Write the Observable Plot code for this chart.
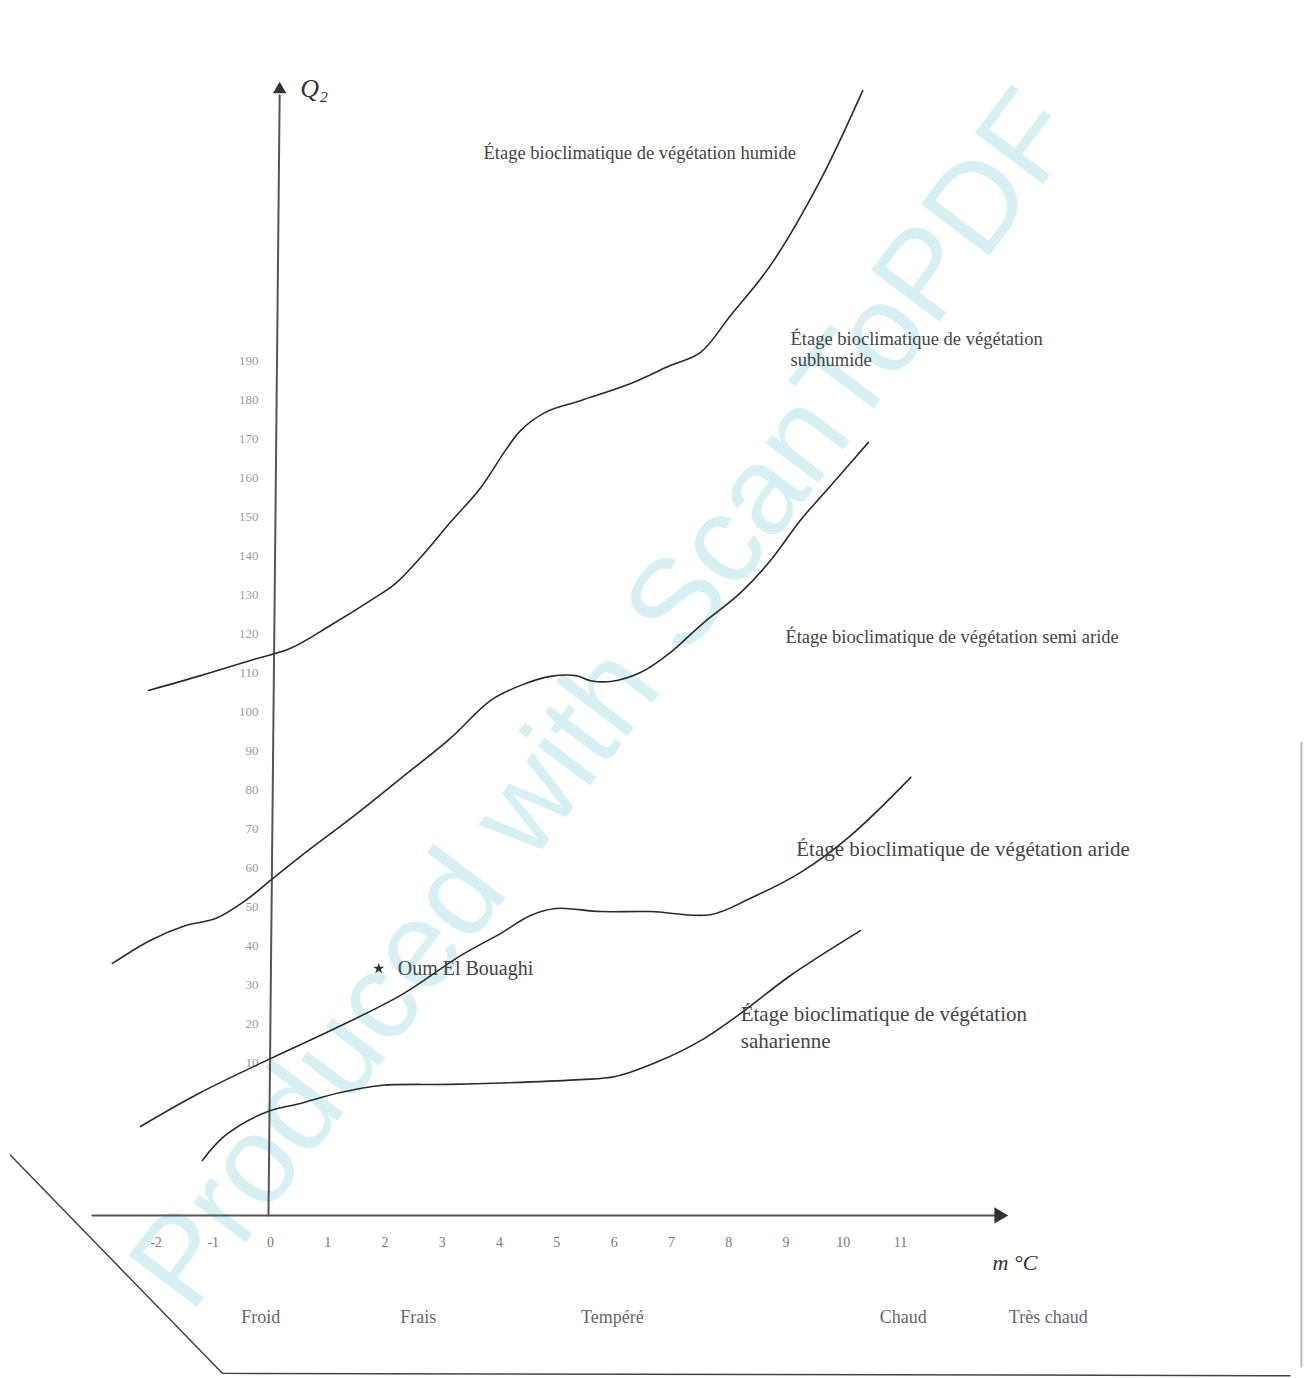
<!DOCTYPE html>
<html><head><meta charset="utf-8">
<script src="https://cdn.jsdelivr.net/npm/d3@7"></script>
<script src="https://cdn.jsdelivr.net/npm/@observablehq/plot@0.6"></script>
<style>body{margin:0;background:#fff}#chart svg{display:block}</style>
</head><body><div id="chart"></div>
<script>
// Emberger climagram: x = m (°C), y = Q2
const yTickValues = [10,20,30,40,50,60,70,80,90,100,110,120,130,140,150,160,170,180,190];
const xTickValues = [-2,-1,0,1,2,3,4,5,6,7,8,9,10,11];
const zoneNames = ["Froid","Frais","Tempéré","Chaud","Très chaud"];
const zoneM = [-0.17,2.58,5.97,11.05,13.58];

// limit humide / subhumide
const limitHumide = [[-2.13,105.4],[-1.22,109.2],[-0.35,113.1],[0.35,116.2],[1.05,122.1],[1.75,128.5],[2.18,132.8],[2.62,139.5],[3.14,148.5],[3.67,157.4],[4.10,166.9],[4.37,172.1],[4.80,176.7],[5.41,179.7],[6.29,184.1],[6.98,188.7],[7.51,192.1],[8.03,201.5],[8.73,214.4],[9.60,236.2],[10.34,259.2]];
// limit subhumide / semi-aride
const limitSubhumide = [[-2.76,35.4],[-2.10,41.3],[-1.48,45.1],[-0.96,46.9],[-0.44,51.5],[0,56.7],[0.52,62.8],[1.40,72.6],[2.27,82.8],[3.14,93.1],[3.84,102.8],[4.37,106.7],[4.89,109.0],[5.33,109.2],[5.59,107.9],[5.94,107.7],[6.46,110.0],[6.98,115.1],[7.51,122.1],[8.21,130.5],[8.73,138.7],[9.25,149.0],[9.78,157.9],[10.44,169.0]];
// limit semi-aride / aride
const limitSemiAride = [[-2.27,-6.4],[-1.22,2.3],[0,11.0],[1.05,18.2],[2.27,27.2],[3.32,37.4],[4.02,43.1],[4.54,47.7],[4.98,49.5],[5.76,48.7],[6.64,48.7],[7.68,47.9],[8.38,52.1],[9.25,58.7],[10.13,68.2],[11.18,83.1]];
// limit aride / saharien
const limitAride = [[-1.19,-15.1],[-0.79,-8.7],[-0.09,-2.8],[0.52,-0.5],[1.22,2.3],[1.92,4.1],[3.14,4.4],[4.37,4.9],[5.41,5.6],[6.02,6.4],[6.81,10.5],[7.51,15.6],[8.21,22.6],[9.08,32.3],[10.30,43.8]];

const stationName = ["Oum El Bouaghi"];
const stationM = [1.89];
const stationQ = [34.1];

const zoneLabels = [
  {m:3.72, q:243.3, t:"Étage bioclimatique de végétation humide", fs:18.5},
  {m:9.08, q:195.6, t:"Étage bioclimatique de végétation", fs:18.5},
  {m:9.08, q:190.0, t:"subhumide", fs:18.5},
  {m:8.99, q:119.0, t:"Étage bioclimatique de végétation semi aride", fs:18.5},
  {m:9.18, q:64.6, t:"Étage bioclimatique de végétation aride", fs:21},
  {m:8.21, q:22.3, t:"Étage bioclimatique de végétation", fs:21},
  {m:8.21, q:15.4, t:"saharienne", fs:21}
];

const axisBottomQ = -29.2;
const lineColor = "#2a2a2a";
const serif = "'Liberation Serif','DejaVu Serif',serif";

const curve = (d) => Plot.line(d, {x: d => d[0], y: d => d[1], curve: "catmull-rom", stroke: lineColor, strokeWidth: 1.6});

const chart = Plot.plot({
  width: 1309, height: 1378,
  marginTop: 0, marginRight: 0, marginBottom: 0, marginLeft: 0,
  x: {domain: [0, 11], range: [270, 900], axis: null},
  y: {domain: [0, 190], range: [1101, 360], axis: null},
  style: {fontFamily: serif, background: "#fff"},
  marks: [
    // watermark
    Plot.text(["Produced with ScanToPDF"], {frameAnchor: "middle", dx: -50, dy: 10, rotate: -53, fontSize: 124, fill: "#d6f0f3", fontFamily: "'Liberation Sans',Arial,sans-serif"}),
    // scan frame lines
    Plot.line([[-4.54,-13.8],[-0.84,-69.7],[17.8,-70.3]], {x: d=>d[0], y: d=>d[1], stroke: "#444", strokeWidth: 1.5}),
    Plot.line([[18.0,92],[18.0,-68]], {x: d=>d[0], y: d=>d[1], stroke: "#bbb", strokeWidth: 2}),
    // axes
    Plot.line([[-3.11, axisBottomQ],[12.7, axisBottomQ]], {x: d=>d[0], y: d=>d[1], stroke: "#555", strokeWidth: 2}),
    Plot.line([[-0.035, axisBottomQ],[0.16, 258]], {x: d=>d[0], y: d=>d[1], stroke: "#555", strokeWidth: 2}),
    Plot.dot([[12.72, axisBottomQ]], {x: d=>d[0], y: d=>d[1], symbol: "triangle", rotate: 90, r: 6, fill: "#333", stroke: "none"}),
    Plot.dot([[0.16, 259.5]], {x: d=>d[0], y: d=>d[1], symbol: "triangle", r: 5, fill: "#333", stroke: "none"}),
    // tick labels
    Plot.text(yTickValues, {x: -0.21, y: d => d, text: d => String(d), textAnchor: "end", fontSize: 13, fill: "#999"}),
    Plot.text(xTickValues, {x: d => d, y: -36.2, text: d => String(d), fontSize: 14, fill: "#777"}),
    Plot.text(zoneNames, {x: (d,i) => zoneM[i], y: -55.4, text: d => d, fontSize: 18, fill: "#666"}),
    Plot.text(["m °C"], {x: 13.0, y: -41.5, text: d => d, fontSize: 22, fontStyle: "italic", fill: "#333"}),
    Plot.text(["Q₂"], {x: 0.52, y: 259.7, text: d => d, textAnchor: "start", fontSize: 26, fontStyle: "italic", fill: "#333"}),
    // limit curves
    curve(limitHumide),
    curve(limitSubhumide),
    curve(limitSemiAride),
    curve(limitAride),
    // zone labels
    Plot.text(zoneLabels, {x: "m", y: "q", text: "t", textAnchor: "start", fontSize: d => d.fs, fill: "#444"}),
    // station
    Plot.dot(stationName, {x: (d,i) => stationM[i], y: (d,i) => stationQ[i], symbol: "star", r: 3.5, fill: "#333", stroke: "none"}),
    Plot.text(stationName, {x: (d,i) => stationM[i], y: (d,i) => stationQ[i], text: d => d, dx: 19, textAnchor: "start", fontSize: 20, fill: "#444"})
  ]
});
document.getElementById("chart").appendChild(chart);
</script>
</body></html>
